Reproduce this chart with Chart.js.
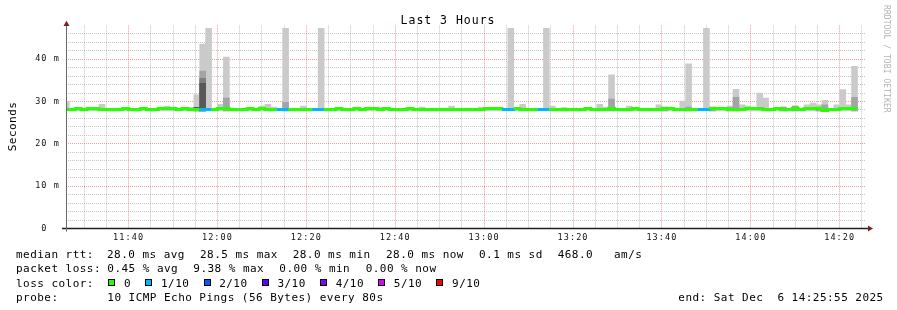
<!DOCTYPE html>
<html>
<head>
<meta charset="utf-8">
<title>Last 3 Hours</title>
<script src="https://cdn.jsdelivr.net/npm/chart.js@4.4.1/dist/chart.umd.min.js"></script>
<style>
  html, body { margin: 0; padding: 0; background: #fff; }
  #wrap { position: relative; width: 897px; height: 310px; }
</style>
</head>
<body>
<div id="wrap"><canvas id="pingChart"></canvas></div>
<script>
// --- time axis (clock time, 80 s steps) ---
const chartStart = '11:25:55';
const chartEnd = '14:25:55';
const firstSlot = '11:25:20';      // first step, partly left of the graph
const stepSeconds = 80;
const tickTimes = ['11:40', '12:00', '12:20', '12:40', '13:00', '13:20', '13:40', '14:00', '14:20'];
const yTickValues = [0, 10, 20, 30, 40];

// median rtt per step (ms), null = no data yet
const medianMs = [
  28.1, 28.1, 28.35, 28.1, 28.35, 28.35, 28.1, 28.1, 28.1, 28.1,
  28.35, 28.1, 28.1, 28.35, 28.1, 28.1, 28.35, 28.35, 28.35, 28.1,
  28.35, 28.1, 28.1, 28.1, 28.1, 28.1, 28.35, 28.35, 28.1, 28.1,
  28.1, 28.35, 28.1, 28.35, 28.1, 28.1, 28.1, 28.1, 28.1, 28.1,
  28.1, 28.1, 28.1, 28.1, 28.1, 28.1, 28.35, 28.1, 28.1, 28.35,
  28.1, 28.35, 28.35, 28.1, 28.35, 28.1, 28.1, 28.1, 28.35, 28.1,
  28.1, 28.1, 28.1, 28.1, 28.1, 28.1, 28.1, 28.1, 28.1, 28.1,
  28.1, 28.35, 28.35, 28.35, 28.1, 28.1, 28.35, 28.1, 28.1, 28.1,
  28.1, 28.1, 28.1, 28.1, 28.1, 28.1, 28.1, 28.1, 28.35, 28.1,
  28.1, 28.1, 28.35, 28.1, 28.1, 28.1, 28.35, 28.1, 28.1, 28.1,
  28.1, 28.35, 28.35, 28.1, 28.1, 28.1, 28.1, 28.1, 28.1, 28.35,
  28.35, 28.35, 28.1, 28.1, 28.1, 28.35, 28.35, 28.35, 28.1, 28.1,
  28.35, 28.1, 28.1, 28.35, 28.1, 28.35, 28.35, 28.35, 27.9, 28.1,
  28.1, 28.35, 28.35, 28.35, null, null
];

// outer smoke (highest ping of the step, ms)
const smokeTopMs = [
  30.0, 28.4, 28.3, 28.3, 28.3, 28.3, 29.35, 28.4, 28.3, 28.3,
  28.3, 28.4, 28.4, 28.6, 28.3, 28.3, 28.6, 28.9, 28.3, 28.3,
  28.3, 28.6, 31.6, 43.55, 47.3, 28.4, 29.35, 40.5, 28.3, 28.4,
  28.3, 28.3, 28.3, 28.9, 29.35, 28.7, 28.3, 47.3, 28.3, 28.3,
  28.9, 28.3, 28.3, 47.3, 28.3, 28.3, 28.3, 28.3, 28.3, 28.3,
  28.3, 28.3, 28.3, 28.7, 28.3, 28.3, 28.3, 28.3, 28.3, 28.4,
  28.7, 28.3, 28.3, 28.3, 28.3, 28.9, 28.4, 28.4, 28.3, 28.3,
  28.7, 28.3, 28.3, 28.3, 28.3, 47.3, 28.3, 29.35, 28.3, 28.3,
  28.3, 47.3, 28.9, 28.3, 28.4, 28.4, 28.3, 28.3, 28.3, 28.4,
  29.35, 28.7, 36.3, 28.3, 28.3, 28.9, 28.3, 28.3, 28.3, 28.3,
  29.2, 28.7, 28.4, 28.3, 30.1, 38.9, 28.3, 28.3, 47.3, 28.7,
  28.3, 28.3, 28.9, 32.9, 29.2, 28.9, 28.3, 32.0, 30.8, 28.4,
  28.3, 28.7, 28.3, 28.9, 28.3, 29.2, 29.6, 29.2, 30.3, 28.4,
  29.2, 32.8, 29.2, 38.3, null, null
];
const smokeBaseMs = 27.8;

// inner smoke layers (step index -> top in ms)
const midSmokeSlots = [23, 27, 37, 84, 92, 101, 105, 109, 112, 113, 121, 123, 127, 128, 133];
const midSmokeTop = [37.2, 30.8, 29.8, 28.5, 30.6, 28.7, 28.7, 28.7, 28.6, 31.0, 28.7, 28.9, 28.7, 29.2, 31.0];
const darkSmokeSlots = [23];
const darkSmokeTop = [35.5];
const darkestSmokeSlots = [22, 23];
const darkestSmokeTop = [28.6, 34.3];

// steps with lost pings (out of 10)
const lossSlots = [23, 24, 36, 37, 42, 43, 74, 75, 80, 81, 107, 108];
const lossPings = [1, 1, 1, 1, 1, 1, 1, 1, 1, 1, 1, 1];

const lossLabels = ['0', '1/10', '2/10', '3/10', '4/10', '5/10', '9/10'];
const lossColors = ['#26ff00', '#00b8ff', '#0059ff', '#5e00ff', '#7e00ff', '#dd00ff', '#ff0000'];
const smokeColors = ['#cacaca', '#a4a4a4', '#7e7e7e', '#585858'];

const MONO = '"DejaVu Sans Mono", monospace';

function toMinutes(hms) {
  const [h, m, s = 0] = hms.split(':').map(Number);
  return h * 60 + m + s / 60;
}
function clockLabel(v) {
  const h = Math.floor(v / 60), m = Math.round(v - h * 60);
  return String(h).padStart(2, '0') + ':' + String(m).padStart(2, '0');
}
const slotStartMin = i => toMinutes(firstSlot) + i * stepSeconds / 60;
const slotMidMin = i => slotStartMin(i) + stepSeconds / 120;
function lossAt(i) {
  const j = lossSlots.indexOf(i);
  return j < 0 ? 0 : lossPings[j];
}
function lossColorIndex(n) {
  if (n <= 4) return n;
  return n < 9 ? 5 : 6;
}

function smokeData(slots, tops) {
  return slots.map((s, j) => ({ x: slotMidMin(s), y: tops[j] == null ? null : [smokeBaseMs, tops[j]] }));
}

// median line: one point at the start of each step, plus the end of the last step
const medianPts = [], medianLoss = [];
medianMs.forEach((v, i) => {
  medianPts.push({ x: slotStartMin(i), y: v });
  medianLoss.push(lossAt(i));
  if (v != null && (i === medianMs.length - 1 || medianMs[i + 1] == null)) {
    medianPts.push({ x: slotStartMin(i + 1), y: v });
    medianLoss.push(lossAt(i));
  }
});

// --- drawing helpers ---
function monoText(ctx, text, x, y, size, pitch, color) {
  ctx.font = size + 'px ' + MONO;
  ctx.fillStyle = color;
  ctx.textAlign = 'left';
  ctx.textBaseline = 'alphabetic';
  const spacing = pitch - size * 0.602;
  if ('letterSpacing' in ctx) {
    ctx.letterSpacing = spacing.toFixed(2) + 'px';
    ctx.fillText(text, x, y);
    ctx.letterSpacing = '0px';
  } else {
    for (let i = 0; i < text.length; i++) ctx.fillText(text[i], x + i * pitch, y);
  }
}
const crisp = p => Math.round(p - 0.5) + 0.5;

function dotted(ctx, x1, y1, x2, y2, color) {
  ctx.save();
  ctx.strokeStyle = color;
  ctx.lineWidth = 1;
  ctx.setLineDash([1, 1]);
  ctx.beginPath();
  ctx.moveTo(x1, y1);
  ctx.lineTo(x2, y2);
  ctx.stroke();
  ctx.restore();
}

const rrdLook = {
  id: 'rrdLook',
  beforeDraw(chart) {
    const ctx = chart.ctx;
    ctx.save();
    ctx.fillStyle = '#fff';
    ctx.fillRect(0, 0, chart.width, chart.height);
    ctx.restore();
    if ('letterSpacing' in ctx) ctx.letterSpacing = '1.1px'; // tick labels
  },
  beforeDatasetsDraw(chart) {
    const ctx = chart.ctx, a = chart.chartArea;
    const xs = chart.scales.x, ys = chart.scales.y;
    const minorGrid = 'rgba(143,143,143,0.5)', majorGrid = 'rgba(222,79,79,0.55)';
    const majorX = tickTimes.map(toMinutes);
    // minor
    for (let v = 2; v < ys.max; v += 2) {
      if (v % 10 === 0) continue;
      const y = crisp(ys.getPixelForValue(v));
      dotted(ctx, a.left, y, a.right, y, minorGrid);
    }
    for (let v = Math.ceil(xs.min / 5) * 5; v <= xs.max; v += 5) {
      if (majorX.includes(v)) continue;
      const x = crisp(xs.getPixelForValue(v));
      dotted(ctx, x, a.top, x, a.bottom, minorGrid);
    }
    // major
    yTickValues.forEach(v => {
      if (v === 0) return;
      const y = crisp(ys.getPixelForValue(v));
      dotted(ctx, a.left, y, a.right, y, majorGrid);
    });
    majorX.forEach(v => {
      const x = crisp(xs.getPixelForValue(v));
      dotted(ctx, x, a.top, x, a.bottom, majorGrid);
    });
  },
  afterDatasetsDraw(chart) {
    const ctx = chart.ctx, a = chart.chartArea;
    ctx.save();
    // axes
    ctx.strokeStyle = '#1f1f1f';
    ctx.lineWidth = 1.5;
    ctx.beginPath();
    ctx.moveTo(a.left - 4, a.bottom);
    ctx.lineTo(a.right + 3, a.bottom);
    ctx.stroke();
    ctx.strokeStyle = '#6a6a6a';
    ctx.lineWidth = 1;
    ctx.beginPath();
    ctx.moveTo(a.left + 0.5, a.bottom + 3);
    ctx.lineTo(a.left + 0.5, a.top - 3);
    ctx.stroke();
    // arrows
    ctx.fillStyle = '#801f1f';
    ctx.beginPath();
    ctx.moveTo(a.left - 2.5, a.top + 0.7);
    ctx.lineTo(a.left + 3.5, a.top + 0.7);
    ctx.lineTo(a.left + 0.5, a.top - 4.5);
    ctx.closePath();
    ctx.fill();
    ctx.beginPath();
    ctx.moveTo(a.right + 2, a.bottom - 3);
    ctx.lineTo(a.right + 2, a.bottom + 3);
    ctx.lineTo(a.right + 7, a.bottom);
    ctx.closePath();
    ctx.fill();
    ctx.restore();
  },
  afterDraw(chart) {
    const ctx = chart.ctx;
    ctx.save();
    const ink = '#000';
    // title
    const tPitch = 7.9, title = 'Last 3 Hours';
    monoText(ctx, title, 448 - title.length * tPitch / 2, 24, 11.5, tPitch, ink);
    // y axis title
    ctx.save();
    ctx.translate(16, 126.5);
    ctx.rotate(-Math.PI / 2);
    monoText(ctx, 'Seconds', -7 * 7.08 / 2, 0, 11, 7.08, ink);
    ctx.restore();
    // watermark
    ctx.save();
    ctx.translate(883.5, 5);
    ctx.rotate(Math.PI / 2);
    monoText(ctx, 'RRDTOOL / TOBI OETIKER', 0, 0, 8, 4.9, '#b4b4b4');
    ctx.restore();

    // legend block
    const P = 7.08, S = 11;
    const rows = [258, 272.3, 286.6, 300.9];
    [['median rtt:', 16], ['28.0 ms avg', 107], ['28.5 ms max', 200], ['28.0 ms min', 292.7],
     ['28.0 ms now', 386], ['0.1 ms sd', 479], ['468.0', 557.7], ['am/s', 614]]
      .forEach(([t, x]) => monoText(ctx, t, x, rows[0], S, P, ink));
    [['packet loss:', 16], ['0.45 % avg', 107.3], ['9.38 % max', 193.3], ['0.00 % min', 279.3], ['0.00 % now', 365.7]]
      .forEach(([t, x]) => monoText(ctx, t, x, rows[1], S, P, ink));
    monoText(ctx, 'loss color:', 16, rows[2], S, P, ink);
    let bx = 108.3;
    lossLabels.forEach((lab, i) => {
      const top = Math.round(rows[2]) - 8;
      ctx.fillStyle = lossColors[i];
      ctx.fillRect(Math.round(bx), top, 7, 7);
      ctx.strokeStyle = '#000';
      ctx.lineWidth = 1;
      ctx.strokeRect(Math.round(bx) + 0.5, top + 0.5, 6, 6);
      monoText(ctx, lab, bx + 15.7, rows[2], S, P, ink);
      bx += 15.7 + lab.length * P + 14.2;
    });
    monoText(ctx, 'probe:', 16, rows[3], S, P, ink);
    monoText(ctx, '10 ICMP Echo Pings (56 Bytes) every 80s', 107.3, rows[3], S, P, ink);
    monoText(ctx, 'end: Sat Dec  6 14:25:55 2025', 678.3, rows[3], S, P, ink);
    ctx.restore();
  }
};

const ctx = document.getElementById('pingChart').getContext('2d');
window.pingChart = new Chart(ctx, {
  type: 'bar',
  data: {
    datasets: [
      {
        type: 'line',
        label: 'median rtt',
        data: medianPts,
        stepped: 'before',
        borderWidth: 3,
        borderColor: lossColors[0],
        pointRadius: 0,
        spanGaps: false,
        order: 0,
        segment: {
          borderColor: c => lossColors[lossColorIndex(medianLoss[c.p0DataIndex])]
        }
      },
      { label: 'smoke 4', data: smokeData(darkestSmokeSlots, darkestSmokeTop), backgroundColor: smokeColors[3], grouped: false, order: 1 },
      { label: 'smoke 3', data: smokeData(darkSmokeSlots, darkSmokeTop), backgroundColor: smokeColors[2], grouped: false, order: 2 },
      { label: 'smoke 2', data: smokeData(midSmokeSlots, midSmokeTop), backgroundColor: smokeColors[1], grouped: false, order: 3 },
      {
        label: 'smoke 1',
        data: smokeData(smokeTopMs.map((v, i) => i), smokeTopMs),
        backgroundColor: smokeColors[0],
        grouped: false,
        order: 4
      }
    ]
  },
  options: {
    responsive: true,
    maintainAspectRatio: false,
    animation: false,
    devicePixelRatio: 1,
    datasets: { bar: { barPercentage: 1, categoryPercentage: 1, borderWidth: 0 } },
    layout: { padding: { left: 0, right: 31, top: 25.3, bottom: 61.5 } },
    plugins: { legend: { display: false }, tooltip: { enabled: false }, title: { display: false } },
    scales: {
      x: {
        type: 'linear',
        offset: false,
        min: toMinutes(chartStart),
        max: toMinutes(chartEnd),
        grid: { display: false, drawTicks: false, offset: false },
        border: { display: false },
        ticks: {
          autoSkip: false,
          maxRotation: 0,
          padding: 4,
          color: '#111',
          font: { family: MONO, size: 8.5 },
          callback: v => clockLabel(v)
        },
        afterBuildTicks: s => { s.ticks = tickTimes.map(t => ({ value: toMinutes(t) })); },
        afterFit: s => { s.height = 20; }
      },
      y: {
        min: 0,
        max: 48,
        grid: { display: false, drawTicks: false },
        border: { display: false },
        ticks: {
          padding: 6,
          color: '#111',
          font: { family: MONO, size: 8.5 },
          callback: v => (v === 0 ? '0  ' : v + ' m')
        },
        afterBuildTicks: s => { s.ticks = yTickValues.map(v => ({ value: v })); },
        afterFit: s => { s.width = 66; }
      }
    }
  },
  plugins: [rrdLook]
});
</script>
</body>
</html>
